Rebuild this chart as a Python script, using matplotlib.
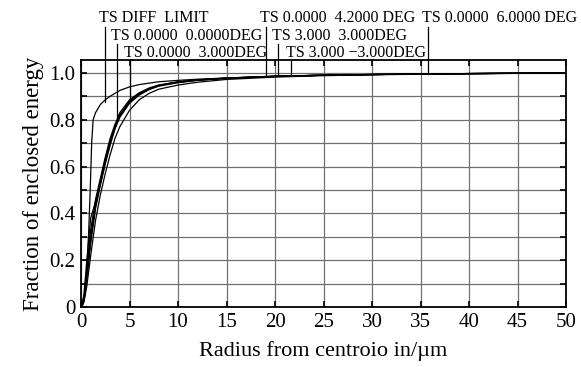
import numpy as np
import matplotlib
matplotlib.use('Agg')
import matplotlib.pyplot as plt

plt.rcParams['font.family'] = ['Liberation Serif', 'DejaVu Serif']

# diffraction limit curve
x_diff = [0, 0.2, 0.4, 0.6, 0.8, 0.95, 1.1, 1.25, 1.5, 2.0, 2.5, 3.0, 4.0, 5.0,
          6.0, 8.0, 10, 12, 15, 20, 25, 30, 35, 40, 45, 50]
y_diff = [0, 0.01, 0.05, 0.15, 0.33, 0.5, 0.7, 0.8, 0.83, 0.865, 0.885, 0.9, 0.925,
          0.94, 0.95, 0.962, 0.968, 0.973, 0.978, 0.985, 0.99, 0.993, 0.995, 0.997,
          0.998, 1.0]

# field curves (tangential)
x_field = [0, 0.3, 0.6, 1.0, 1.5, 2.0, 2.5, 3.0, 3.5, 4.0, 5.0, 6.0, 7.0, 8.0,
           10, 12, 15, 20, 25, 30, 40, 50]
y_f00 = [0, 0.04, 0.17, 0.33, 0.46, 0.55, 0.64, 0.72, 0.78, 0.83, 0.885, 0.915,
         0.935, 0.948, 0.962, 0.970, 0.978, 0.986, 0.990, 0.993, 0.997, 1.0]
y_f03 = [0, 0.05, 0.2, 0.38, 0.45, 0.53, 0.62, 0.70, 0.77, 0.82, 0.875, 0.91,
         0.932, 0.946, 0.96, 0.969, 0.977, 0.985, 0.99, 0.993, 0.997, 1.0]
y_f042 = [0, 0.03, 0.14, 0.3, 0.44, 0.54, 0.63, 0.71, 0.77, 0.82, 0.88, 0.912,
          0.933, 0.947, 0.961, 0.97, 0.978, 0.986, 0.99, 0.993, 0.997, 1.0]
y_f33 = [0, 0.03, 0.12, 0.27, 0.42, 0.52, 0.61, 0.69, 0.76, 0.81, 0.87, 0.905,
         0.928, 0.943, 0.958, 0.968, 0.977, 0.985, 0.99, 0.993, 0.997, 1.0]
y_f3m3 = [0, 0.03, 0.13, 0.29, 0.43, 0.53, 0.62, 0.70, 0.765, 0.815, 0.875, 0.908,
          0.93, 0.945, 0.96, 0.969, 0.977, 0.985, 0.99, 0.993, 0.997, 1.0]
y_f06 = [0, 0.02, 0.09, 0.22, 0.37, 0.48, 0.57, 0.65, 0.72, 0.77, 0.84, 0.885,
         0.912, 0.93, 0.948, 0.96, 0.972, 0.982, 0.988, 0.992, 0.996, 1.0]

labels = ['TS DIFF  LIMIT', 'TS 0.0000  0.0000DEG', 'TS 0.0000  3.000DEG',
          'TS 0.0000  4.2000 DEG', 'TS 3.000  3.000DEG', 'TS 3.000 \u22123.000DEG',
          'TS 0.0000  6.0000 DEG']
# x where each leader line meets the curves, and its text row
lead_x = [2.44, 3.74, 5.0, 19.1, 20.3, 21.7, 35.8]
lead_y = [0.877, 0.81, 0.88, 0.988, 0.989, 0.99, 0.996]
rows = [0, 1, 2, 0, 1, 2, 0]

fig = plt.figure(figsize=(5.81, 3.67), dpi=100)
ax = fig.add_axes([81/581, 1-307/367, (566-81)/581, (307-60)/367])

ax.plot(x_diff, y_diff, color='black', lw=0.9)
for yy in [y_f00, y_f03, y_f042, y_f33, y_f3m3, y_f06]:
    ax.plot(x_field, yy, color='black', lw=0.9)

ax.set_xlim(0, 50)
ax.set_ylim(0, 1.055)
ax.set_xticks(np.arange(0, 51, 5))
ax.set_yticks([0, 0.2, 0.4, 0.6, 0.8, 1.0])
ax.set_yticklabels(['0', '0.2', '0.4', '0.6', '0.8', '1.0'])
ax.set_yticks(np.arange(0.1, 1.0, 0.2), minor=True)
ax.grid(True, which='both', color='#707070', lw=0.9)
ax.tick_params(which='both', direction='in', top=True, right=True, length=4,
               width=1.2, labelsize=15, pad=4)
for s in ax.spines.values():
    s.set_linewidth(1.3)

ax.set_xlabel('Radius from centroio in/\u00b5m', fontsize=16, labelpad=7)
ax.set_ylabel('Fraction of enclosed energy', fontsize=16.5, labelpad=4)

# leader lines + labels above the plot
row_y = [(307-18)/234, (307-36)/234, (307-53)/234]
top_y = [(307-27)/234, (307-44)/234, (307-61)/234]
for lab, lx, ly, r in zip(labels, lead_x, lead_y, rows):
    ax.plot([lx, lx], [ly, top_y[r]], color='black', lw=0.9, clip_on=False)
    ax.text(lx - 0.6, row_y[r], lab, fontsize=11.5, ha='left', va='center',
            clip_on=False)

fig.savefig('out.png', dpi=100)
